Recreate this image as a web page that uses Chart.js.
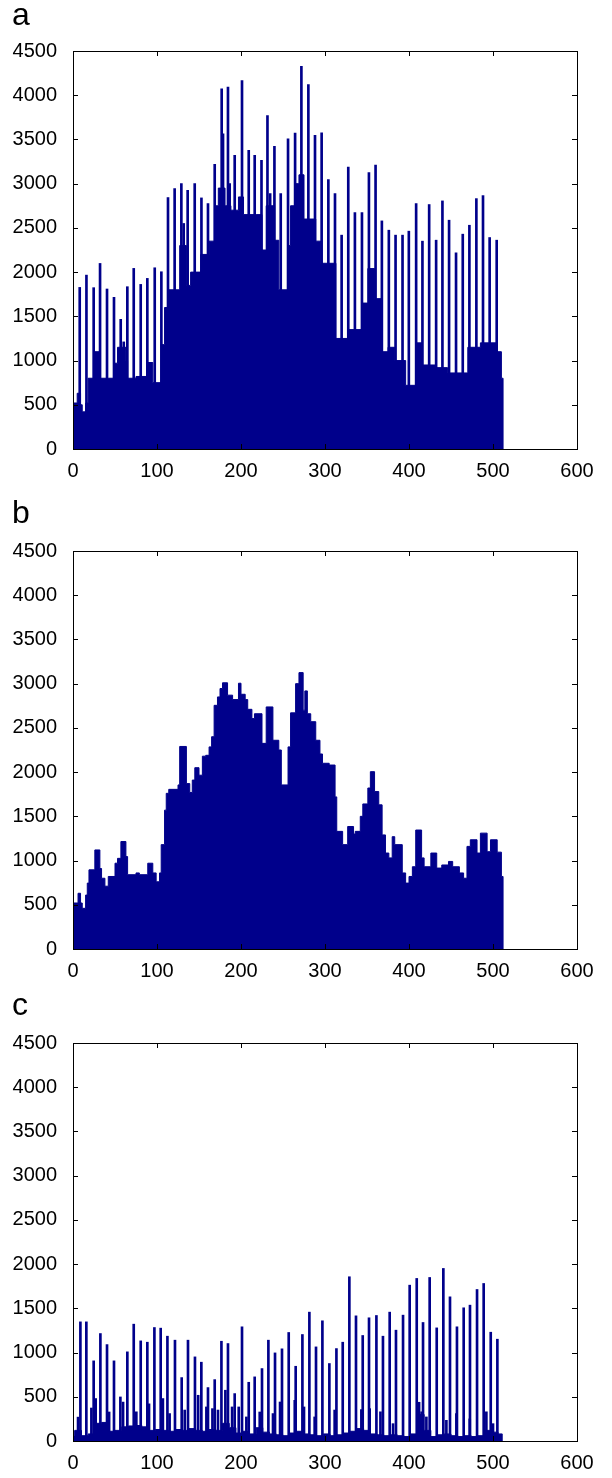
<!DOCTYPE html>
<html>
<head>
<meta charset="utf-8">
<script src="https://cdn.jsdelivr.net/npm/chart.js@4.4.1/dist/chart.umd.min.js"></script>
<style>
  html, body { margin: 0; padding: 0; background: #fff; }
  body { width: 612px; height: 1478px; position: relative; overflow: hidden; }
  .panel { position: absolute; left: 0; width: 612px; }
  .tag { position: absolute; left: 12px; font-family: "Liberation Sans", Arial, sans-serif; font-size: 32px; line-height: 32px; color: #000; }
</style>
</head>
<body>
<div class="panel" style="top:0;height:500px"><canvas id="chartA" width="612" height="500"></canvas></div>
<div class="panel" style="top:500px;height:492px"><canvas id="chartB" width="612" height="492"></canvas></div>
<div class="panel" style="top:992px;height:486px"><canvas id="chartC" width="612" height="486"></canvas></div>
<div class="tag" style="top:-2px">a</div>
<div class="tag" style="top:496px">b</div>
<div class="tag" style="top:988px">c</div>

<script>
// axis ticks shared by all three panels
const xTicks = [0, 100, 200, 300, 400, 500, 600];
const yTicks = [0, 500, 1000, 1500, 2000, 2500, 3000, 3500, 4000, 4500];

// panel a: base level (step starts) and spike tops
const aBaseX = [0,1,5,9,11,15,18,26,32,42,50,53,63,65,75,89,95,105,109,113,127,135,140,152,162,169,173,181,188,197,203,218,225,230,240,245,256,259,265,269,275,289,295,313,327,344,351,359,367,375,383,396,408,416,432,446,470,485,505,510,512];
const aBaseY = [370,520,630,500,420,520,800,1100,800,800,970,1150,1000,800,820,978,750,1180,1600,1800,2300,1850,2000,2200,2350,2750,2950,2750,2700,2850,2650,2650,2250,2750,2360,1800,2300,2750,3000,3100,2600,2350,2100,1250,1350,1650,2040,1700,1100,1150,1000,720,1200,950,920,860,1150,1200,1100,800,0];
const aSpikeX = [8,16,24.6,32.2,40.5,48.8,56.8,64.7,72.3,80.6,88.5,97.3,105.2,113.1,121,129,136.5,144.9,152.9,160.7,168.7,177,184.5,192.5,201.2,209.2,216.3,224.4,231.5,239.8,247.3,256,264.4,271.9,280.2,288.1,296,304,311.9,319.8,327.7,335.6,344,352.3,360.2,367.7,376,384,392.3,399.8,408.5,416,424,432.3,439.8,447.7,456,464,471.9,480.2,488.1,496,504.4];
const aSpikeY = [1827,1966,1824,2098,1809,1715,1466,1835,2042,1861,1929,2049,2004,2843,2944,3000,2925,3000,2839,2775,3219,4072,4091,3320,4166,3376,3320,3264,3771,3422,2888,3508,3572,4328,4121,3546,3576,3046,2888,2418,3188,2673,2673,3125,3211,2579,2474,2418,2418,2463,2775,2350,2764,2361,2805,2587,2218,2429,2530,2831,2865,2391,2361];
const aSubX = [60.4, 131.8, 178.6, 186.5, 234.7];
const aSubY = [1211, 2550, 3564, 3000, 2888];

// panel b: smooth level only
const bX = [0,1,6,9,11,15,17,19,26,32,34,38,42,50,53,57,63,65,75,79,89,95,99,103,105,109,111,114,125,127,135,139,142,145,150,154,158,162,165,168,172,175,178,184,190,197,200,205,208,213,216,225,230,238,245,248,256,259,265,269,274,276,279,283,289,294,297,305,312,314,321,327,334,336,342,345,351,354,359,364,368,372,376,380,383,392,396,400,404,408,415,418,426,433,439,447,452,460,465,469,473,481,485,493,497,505,510,512];
const bY = [370,520,630,520,460,610,745,895,1120,910,800,710,820,970,1025,1215,1045,840,860,840,970,860,760,860,1180,1570,1760,1805,1855,2290,1870,1770,1910,2050,1965,2180,2190,2285,2400,2755,2850,2945,3010,2870,2820,3005,2880,2820,2710,2605,2660,2325,2737,2360,2250,1855,2285,2670,3000,3125,2700,2918,2660,2570,2360,2205,2100,2080,1720,1330,1180,1385,1300,1330,1500,1640,1820,2005,1780,1630,1290,1085,1030,1270,1180,860,745,820,930,1345,1030,930,1085,915,950,990,930,860,800,1160,1235,1085,1310,1100,1235,1095,820,0];

// panel c: low floor, spikes and smaller bumps
const cBaseX = [0,2,10,18,26,34,42,50,58,66,74,82,90,98,106,114,122,130,138,146,154,162,170,178,186,194,202,210,218,226,234,242,250,258,266,274,282,290,298,306,314,322,330,338,346,354,362,370,378,386,394,402,410,418,426,434,442,450,458,466,474,482,490,498,506,511];
const cBaseY = [60,120,60,80,200,210,110,120,160,170,175,160,120,130,120,110,130,120,140,120,110,130,120,200,150,90,110,80,150,100,80,70,60,90,110,80,70,60,80,60,70,90,110,140,120,80,70,60,70,60,50,80,300,120,50,70,80,60,50,60,50,60,120,100,80,0];
const cSpikeX = [8.8,15.9,24.6,32.6,40.5,48.8,56.4,64.7,72.3,80.6,88.5,96.9,104.4,112.4,121.4,129.4,136.9,145.2,152.8,160.7,168.7,176.7,184.5,192.5,201.2,209.2,216.3,225,232.6,240.5,248.8,256.8,265.1,273.1,281.4,289.3,296.9,305.2,313.6,321.1,329,336.9,344.9,352.4,361.2,369,377,384.5,392.9,400.8,409.2,416.7,424.6,433,440.9,448.8,457.1,465.1,472.6,481,488.9,497.3,505.2];
const cSpikeY = [1347,1347,906,1215,1090,906,498,1008,1321,1132,1117,1283,1276,1185,1140,717,1140,951,891,604,694,1128,1102,536,1291,664,725,819,1140,996,1042,1227,845,1204,1457,1064,1359,876,1045,1117,1857,1415,1193,1393,1419,1185,1457,1253,1423,1762,1838,1340,1849,1279,1951,1630,1291,1506,1536,1713,1781,1230,1151];
const cSubX = [6,21.9,27,43,59.6,75.4,90.5,107,115,133,149,158.8,166,172.6,181.4,189.4,197.3,206.4,222.3,238.1,246.5,264,275,287.7,311.5,343.3,353.2,366,381,412,415,420.7,444.5,456.4,472.3,492.1,500];
const cSubY = [270,373,480,328,440,330,420,480,310,350,517,385,366,350,574,385,385,272,328,310,441,460,385,272,350,355,366,330,196,438,330,272,234,310,250,330,196];

const NAVY = '#00008b';
const FONT = { family: '"Liberation Sans", Arial, sans-serif', size: 20 };

// draws the box and the inward tick marks (matlab style)
const framePlugin = {
    id: 'frame',
    afterDraw(chart) {
        const { ctx, chartArea: a, scales } = chart;
        ctx.save();
        ctx.strokeStyle = '#000';
        ctx.lineWidth = 1;
        ctx.beginPath();
        xTicks.forEach(v => {
            const px = Math.round(scales.x.getPixelForValue(v)) + 0.5;
            ctx.moveTo(px, a.bottom); ctx.lineTo(px, a.bottom - 5);
            ctx.moveTo(px, a.top); ctx.lineTo(px, a.top + 5);
        });
        yTicks.forEach(v => {
            const py = Math.round(scales.y.getPixelForValue(v)) + 0.5;
            ctx.moveTo(a.left, py); ctx.lineTo(a.left + 5, py);
            ctx.moveTo(a.right, py); ctx.lineTo(a.right - 5, py);
        });
        ctx.stroke();
        ctx.strokeRect(Math.round(a.left) + 0.5, Math.round(a.top) + 0.5,
            Math.round(a.right - a.left), Math.round(a.bottom - a.top));
        ctx.restore();
    }
};

function toPoints(xs, ys) {
    return xs.map((x, i) => ({ x: x, y: ys[i] }));
}

function makePanel(canvasId, axisHeight, baseX, baseY, spikeX, spikeY, subX, subY) {
    const datasets = [{
        type: 'line',
        data: toPoints(baseX, baseY),
        stepped: 'before', // each value holds until the next x
        fill: 'origin',
        borderColor: NAVY,
        backgroundColor: NAVY,
        borderWidth: 1,
        pointRadius: 0
    }];
    if (spikeX) {
        datasets.push({
            type: 'bar', data: toPoints(spikeX, spikeY),
            backgroundColor: NAVY, borderWidth: 0, barThickness: 2, grouped: false
        });
        datasets.push({
            type: 'bar', data: toPoints(subX, subY),
            backgroundColor: NAVY, borderWidth: 0, barThickness: 2, grouped: false
        });
    }

    return new Chart(document.getElementById(canvasId), {
        type: 'line',
        data: { datasets: datasets },
        options: {
            responsive: false,
            animation: false,
            devicePixelRatio: 1,
            layout: { padding: { top: 51, right: 35, left: 0, bottom: 0 } },
            plugins: { legend: { display: false }, tooltip: { enabled: false } },
            scales: {
                x: {
                    type: 'linear', min: 0, max: 600, offset: false,
                    grid: { display: false, drawTicks: false, tickLength: 0 },
                    border: { display: false },
                    ticks: { stepSize: 100, padding: 10, color: '#000', font: FONT, maxRotation: 0, autoSkip: false,
                             callback: v => String(v) },
                    afterFit: scale => { scale.height = axisHeight; }
                },
                y: {
                    min: 0, max: 4500,
                    grid: { display: false, drawTicks: false, tickLength: 0 },
                    border: { display: false },
                    ticks: { stepSize: 500, padding: 16, color: '#000', font: FONT, autoSkip: false,
                             callback: v => String(v) },
                    afterFit: scale => { scale.width = 73; }
                }
            }
        },
        plugins: [framePlugin]
    });
}

makePanel('chartA', 51, aBaseX, aBaseY, aSpikeX, aSpikeY, aSubX, aSubY);
makePanel('chartB', 43, bX, bY);
makePanel('chartC', 37, cBaseX, cBaseY, cSpikeX, cSpikeY, cSubX, cSubY);
</script>
</body>
</html>
